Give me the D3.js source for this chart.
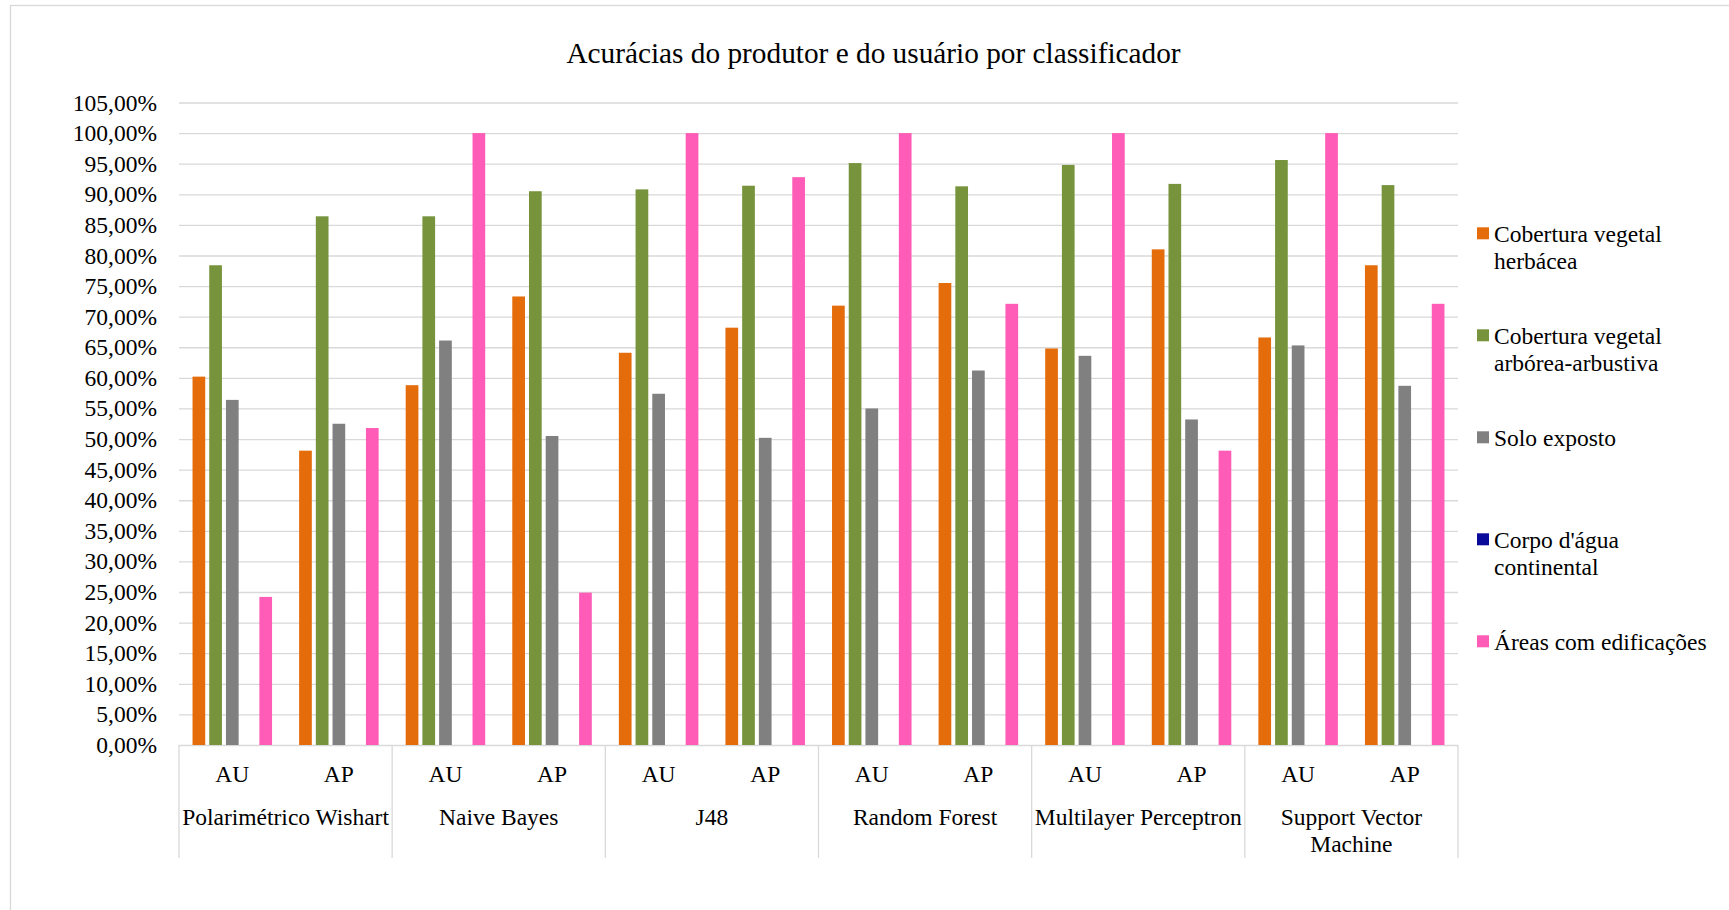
<!DOCTYPE html>
<html>
<head>
<meta charset="utf-8">
<script src="https://cdn.jsdelivr.net/npm/d3@7"></script>
<style>
  html, body { margin: 0; padding: 0; background: #fff; }
  svg { display: block; }
  text { font-family: "Liberation Serif", "Times New Roman", serif; fill: #000; }
</style>
</head>
<body>
<svg id="chart" width="1729" height="910"></svg>
<script>
// ---- data ----
const groups = ["Polarimétrico Wishart", "Naive Bayes", "J48", "Random Forest", "Multilayer Perceptron", "Support Vector Machine"];
const subcats = ["AU", "AP"];
const seriesNames = ["Cobertura vegetal herbácea", "Cobertura vegetal arbórea-arbustiva", "Solo exposto", "Corpo d'água continental", "Áreas com edificações"];
const seriesColors = ["#E46C0A", "#77933C", "#808080", "#0A0A9A", "#FF5CB8"];
const herbacea = [60.2, 48.1, 58.8, 73.3, 64.1, 68.2, 71.8, 75.5, 64.8, 81.0, 66.6, 78.4];
const arborea  = [78.4, 86.4, 86.4, 90.5, 90.8, 91.4, 95.1, 91.3, 94.8, 91.7, 95.6, 91.5];
const solo     = [56.4, 52.5, 66.1, 50.5, 57.4, 50.2, 55.0, 61.2, 63.6, 53.2, 65.3, 58.7];
const agua     = [null, null, null, null, null, null, null, null, null, null, null, null];
const areas    = [24.2, 51.8, 100, 24.9, 100, 92.8, 100, 72.1, 100, 48.1, 100, 72.1];
const yTicks = [0, 5, 10, 15, 20, 25, 30, 35, 40, 45, 50, 55, 60, 65, 70, 75, 80, 85, 90, 95, 100, 105];
const title = "Acurácias do produtor e do usuário por classificador";

const seriesValues = [herbacea, arborea, solo, agua, areas];

// ---- layout ----
const svg = d3.select("#chart");
const plot = { left: 179, right: 1458, top: 102.5, bottom: 745 };
const gridColor = "#D9D9D9";

// outer chart border
svg.append("rect")
  .attr("x", 10.5).attr("y", 5.5)
  .attr("width", 1800).attr("height", 1000)
  .attr("fill", "none").attr("stroke", gridColor).attr("stroke-width", 1.3);

// categories: group x subcat
const cats = [];
groups.forEach((g, gi) => subcats.forEach((s, si) => cats.push({ key: gi + "-" + s, group: g, gi, sub: s, idx: gi * 2 + si })));

const x0 = d3.scaleBand().domain(cats.map(c => c.key)).range([plot.left, plot.right]).paddingInner(0).paddingOuter(0);
const x1 = d3.scaleBand().domain(seriesNames).range([0, x0.bandwidth()]).paddingInner(0.24).paddingOuter(0.81);
const y = d3.scaleLinear().domain([0, 105]).range([plot.bottom, plot.top]);

// gridlines
svg.append("g")
  .attr("transform", `translate(${plot.left},0)`)
  .call(d3.axisLeft(y).tickValues(yTicks).tickSize(-(plot.right - plot.left)).tickFormat(""))
  .call(g => g.select(".domain").remove())
  .call(g => g.selectAll("line").attr("stroke", gridColor).attr("stroke-width", 1.3));

// y labels
svg.append("g")
  .attr("transform", `translate(${plot.left},0)`)
  .call(d3.axisLeft(y).tickValues(yTicks).tickSize(0).tickPadding(22)
    .tickFormat(d => d.toFixed(2).replace(".", ",") + "%"))
  .call(g => g.select(".domain").remove())
  .call(g => g.selectAll("text")
    .style("font-family", '"Liberation Serif", "Times New Roman", serif')
    .style("font-size", "23.5px").attr("fill", "#000"));

// bars
const barData = [];
seriesNames.forEach((s, si) => {
  seriesValues[si].forEach((v, ci) => {
    if (v !== null) barData.push({ series: s, si, cat: cats[ci], v });
  });
});
svg.append("g").selectAll("rect").data(barData).join("rect")
  .attr("x", d => x0(d.cat.key) + x1(d.series))
  .attr("width", x1.bandwidth())
  .attr("y", d => y(d.v))
  .attr("height", d => y(0) - y(d.v))
  .attr("fill", d => seriesColors[d.si]);

// category axis separators (group boundaries)
const sepX = groups.map((g, gi) => x0(gi + "-AU")).concat([plot.right]);
svg.append("g").selectAll("line").data(sepX).join("line")
  .attr("x1", d => d).attr("x2", d => d)
  .attr("y1", plot.bottom).attr("y2", 858)
  .attr("stroke", gridColor).attr("stroke-width", 1.3);

// subcategory labels
svg.append("g").selectAll("text").data(cats).join("text")
  .attr("x", d => x0(d.key) + x0.bandwidth() / 2)
  .attr("y", 782)
  .attr("text-anchor", "middle")
  .style("font-size", "23.5px")
  .text(d => d.sub);

// group labels (wrapped)
const groupW = x0.bandwidth() * 2;
const gl = svg.append("g");
groups.forEach((g, gi) => {
  const cx = x0(gi + "-AU") + groupW / 2;
  const t = gl.append("text").attr("x", cx).attr("y", 825).attr("text-anchor", "middle").style("font-size", "23.5px");
  const words = g.split(" ");
  let line = [];
  let tspan = t.append("tspan").attr("x", cx).attr("y", 825);
  let lineNo = 0;
  words.forEach(w => {
    line.push(w);
    tspan.text(line.join(" "));
    if (tspan.node().getComputedTextLength() > groupW && line.length > 1) {
      line.pop();
      tspan.text(line.join(" "));
      line = [w];
      lineNo++;
      tspan = t.append("tspan").attr("x", cx).attr("y", 825 + lineNo * 27).text(w);
    }
  });
});

// title
svg.append("text")
  .attr("x", 873.5).attr("y", 63)
  .attr("text-anchor", "middle")
  .style("font-size", "29.3px")
  .text(title);

// legend
const legendLines = [["Cobertura vegetal", "herbácea"], ["Cobertura vegetal", "arbórea-arbustiva"], ["Solo exposto"], ["Corpo d'água", "continental"], ["Áreas com edificações"]];
const lg = svg.append("g");
seriesNames.forEach((s, i) => {
  const base = 242 + i * 102;
  lg.append("rect").attr("x", 1477).attr("y", base - 14.7).attr("width", 12).attr("height", 12).attr("fill", seriesColors[i]);
  const t = lg.append("text").style("font-size", "23.5px");
  legendLines[i].forEach((ln, li) => {
    t.append("tspan").attr("x", 1494).attr("y", base + li * 27).text(ln);
  });
});
</script>
</body>
</html>
